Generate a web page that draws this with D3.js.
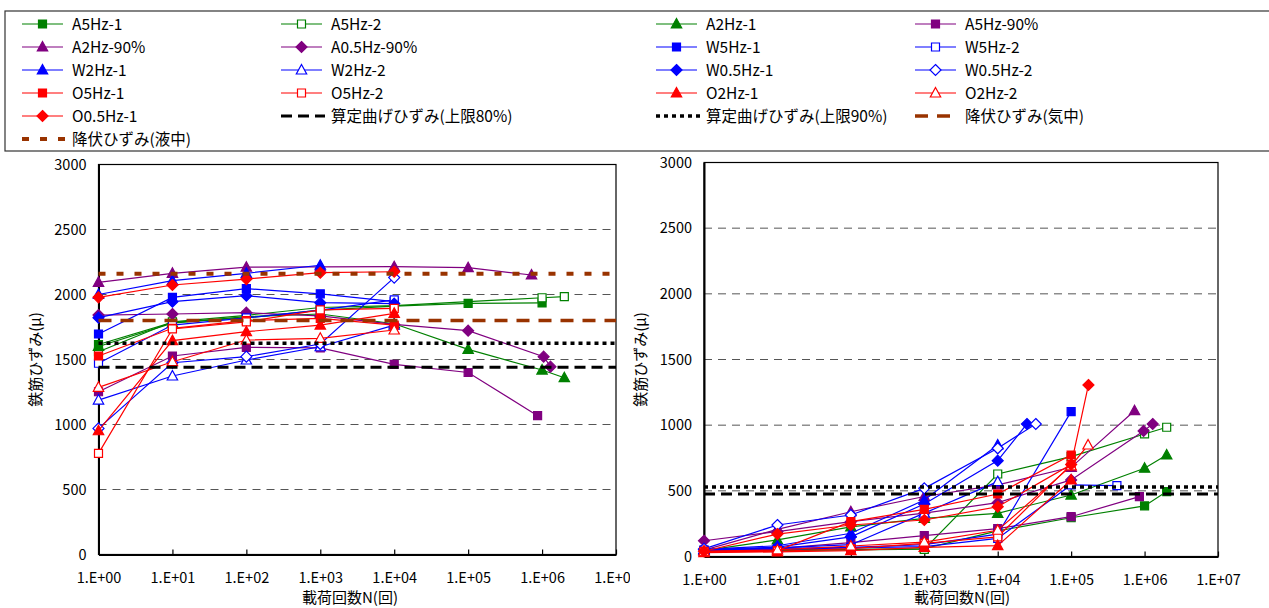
<!DOCTYPE html>
<html><head><meta charset="utf-8">
<script src="https://cdn.jsdelivr.net/npm/d3@7/dist/d3.min.js"></script>
<style>
body{margin:0;background:#fff;}
svg text{font-family:"Noto Sans CJK JP","Noto Sans",sans-serif;fill:#000;}
</style></head>
<body><svg id="c" width="1269" height="608"></svg>
<script>
// ---------- data ----------
const seriesNames = ["A5Hz-1","A5Hz-2","A2Hz-1","A5Hz-90%","A2Hz-90%","A0.5Hz-90%","W5Hz-1","W5Hz-2","W2Hz-1","W2Hz-2","W0.5Hz-1","W0.5Hz-2","O5Hz-1","O5Hz-2","O2Hz-1","O2Hz-2","O0.5Hz-1"];
const refNames = ["算定曲げひずみ(上限80%)","算定曲げひずみ(上限90%)","降伏ひずみ(気中)","降伏ひずみ(液中)"];
const yTicks = [0,500,1000,1500,2000,2500,3000];
const xTickValues = [1,10,100,1000,1e4,1e5,1e6,1e7];
const xTickLabels = ["1.E+00","1.E+01","1.E+02","1.E+03","1.E+04","1.E+05","1.E+06","1.E+07"];
const xTitle = "載荷回数N(回)";
const yTitle = "鉄筋ひずみ(μ)";

// left chart: [N, strain]
const L_A5Hz_1   = [[1,1615],[10,1785],[100,1820],[1000,1880],[1e4,1910],[1e5,1932],[1e6,1935]];
const L_A5Hz_2   = [[1,1560],[10,1790],[100,1840],[1000,1900],[1e4,1915],[1e6,1975],[2e6,1983]];
const L_A2Hz_1   = [[1,1600],[10,1780],[100,1830],[1000,1850],[1e4,1775],[1e5,1578],[1e6,1419],[2e6,1360]];
const L_A5Hz_90  = [[1,1252],[10,1527],[100,1594],[1000,1590],[1e4,1463],[1e5,1400],[8.7e5,1068]];
const L_A2Hz_90  = [[1,2094],[10,2163],[100,2210],[1000,2212],[1e4,2214],[1e5,2206],[7.2e5,2150]];
const L_A05Hz_90 = [[1,1842],[10,1850],[100,1860],[1000,1835],[1e4,1770],[1e5,1722],[1.05e6,1522],[1.3e6,1445]];
const L_W5Hz_1   = [[1,1696],[10,1978],[100,2045],[1000,2005],[1e4,1945]];
const L_W5Hz_2   = [[1,1471],[10,1765],[100,1820],[1000,1880],[1e4,1958]];
const L_W2Hz_1   = [[1,2000],[10,2107],[100,2163],[1000,2225]];
const L_W2Hz_2   = [[1,1188],[10,1373],[100,1496],[1000,1598],[1e4,1765]];
const L_W05Hz_1  = [[1,1822],[10,1945],[100,1991],[1000,1937],[1e4,1930]];
const L_W05Hz_2  = [[1,970],[10,1475],[100,1522],[1000,1619],[1e4,2130]];
const L_O5Hz_1   = [[1,1527],[10,1740],[100,1799],[1000,1817],[1e4,1765]];
const L_O5Hz_2   = [[1,778],[10,1735],[100,1790],[1000,1881],[1e4,1894]];
const L_O2Hz_1   = [[1,952],[10,1645],[100,1714],[1000,1765],[1e4,1855]];
const L_O2Hz_2   = [[1,1286],[10,1483],[100,1650],[1000,1663],[1e4,1727]];
const L_O05Hz_1  = [[1,1978],[10,2073],[100,2119],[1000,2168],[1e4,2175]];
const leftRefValues = [1440,1625,1800,2160];

// right chart: [N, strain]
const R_A5Hz_1   = [[1,40],[10,50],[100,55],[1000,60],[1e4,195],[1e5,295],[1e6,385],[2e6,494]];
const R_A5Hz_2   = [[1,42],[10,45],[100,50],[1000,55],[1e4,628],[1e5,760],[1e6,933],[2e6,984]];
const R_A2Hz_1   = [[1,45],[10,126],[100,225],[1000,290],[1e4,329],[1e5,468],[1e6,672],[2e6,773]];
const R_A5Hz_90  = [[1,40],[10,62],[100,105],[1000,159],[1e4,212],[1e5,303],[8.5e5,456]];
const R_A2Hz_90  = [[1,48],[10,207],[100,341],[1000,457],[1e4,545],[1e5,679],[7.3e5,1110]];
const R_A05Hz_90 = [[1,120],[10,190],[100,265],[1000,330],[1e4,410],[1e5,583],[9.7e5,956],[1.29e6,1009]];
const R_W5Hz_1   = [[1,50],[10,62],[100,70],[1000,90],[1e4,170],[1e5,1103]];
const R_W5Hz_2   = [[1,45],[10,55],[100,65],[1000,75],[1e4,138],[1e5,545],[4.2e5,540]];
const R_W2Hz_1   = [[1,55],[10,82],[100,177],[1000,430],[1e4,849]];
const R_W2Hz_2   = [[1,50],[10,65],[100,90],[1000,330],[1e4,570]];
const R_W05Hz_1  = [[1,52],[10,72],[100,150],[1000,400],[1e4,730],[2.5e4,1009]];
const R_W05Hz_2  = [[1,58],[10,240],[100,316],[1000,519],[1e4,824],[3.3e4,1009]];
const R_O5Hz_1   = [[1,40],[10,45],[100,265],[1000,359],[1e4,476],[1e5,773]];
const R_O5Hz_2   = [[1,35],[10,40],[100,60],[1000,100],[1e4,150],[1e5,700]];
const R_O2Hz_1   = [[1,30],[10,35],[100,45],[1000,70],[1e4,83],[1e5,583]];
const R_O2Hz_2   = [[1,40],[10,50],[100,80],[1000,110],[1e4,200],[1e5,690],[1.7e5,849]];
const R_O05Hz_1  = [[1,40],[10,171],[100,240],[1000,278],[1e4,379],[1e5,700],[1.72e5,1306]];
const rightRefValues = [475,530];

const leftSeries = [L_A5Hz_1,L_A5Hz_2,L_A2Hz_1,L_A5Hz_90,L_A2Hz_90,L_A05Hz_90,L_W5Hz_1,L_W5Hz_2,L_W2Hz_1,L_W2Hz_2,L_W05Hz_1,L_W05Hz_2,L_O5Hz_1,L_O5Hz_2,L_O2Hz_1,L_O2Hz_2,L_O05Hz_1];
const rightSeries = [R_A5Hz_1,R_A5Hz_2,R_A2Hz_1,R_A5Hz_90,R_A2Hz_90,R_A05Hz_90,R_W5Hz_1,R_W5Hz_2,R_W2Hz_1,R_W2Hz_2,R_W05Hz_1,R_W05Hz_2,R_O5Hz_1,R_O5Hz_2,R_O2Hz_1,R_O2Hz_2,R_O05Hz_1];

// ---------- styles ----------
const G="#008000",P="#800080",B="#0000FF",R="#FF0000",BR="#993300";
const seriesStyle = [
 [G,"sq",1],[G,"sq",0],[G,"tri",1],[P,"sq",1],[P,"tri",1],[P,"dia",1],
 [B,"sq",1],[B,"sq",0],[B,"tri",1],[B,"tri",0],[B,"dia",1],[B,"dia",0],
 [R,"sq",1],[R,"sq",0],[R,"tri",1],[R,"tri",0],[R,"dia",1]];
const refStyle = [
 {c:"#000",w:3,d:"11,6"},{c:"#000",w:3.5,d:"4,4"},{c:BR,w:3.5,d:"13,9"},{c:BR,w:4,d:"7,11"}];

function markerPath(shape){
  if(shape==="sq") return "M-4,-4H4V4H-4Z";
  if(shape==="tri") return "M0,-5.5L5.2,4L-5.2,4Z";
  return "M0,-5.5L5.5,0L0,5.5L-5.5,0Z";
}

const svg = d3.select("#c");

// ---------- legend ----------
svg.append("rect").attr("x",5).attr("y",11).attr("width",1280).attr("height",140)
  .attr("fill","#fff").attr("stroke","#333").attr("stroke-width",1.2);
const colX = [22,281,656,915];
const rowY = [24,47,70,93,116,139];
const legendItems = seriesNames.map((n,i)=>({name:n,type:"s",i})).concat(refNames.map((n,i)=>({name:n,type:"r",i})));
legendItems.forEach((it,k)=>{
  const x0 = colX[k%4], y0 = rowY[Math.floor(k/4)];
  const g = svg.append("g");
  if(it.type==="s"){
    const st = seriesStyle[it.i];
    g.append("line").attr("x1",x0).attr("x2",x0+41).attr("y1",y0).attr("y2",y0).attr("stroke",st[0]).attr("stroke-width",1.2);
    g.append("path").attr("d",markerPath(st[1])).attr("transform",`translate(${x0+20.5},${y0})`)
      .attr("fill",st[2]?st[0]:"#fff").attr("stroke",st[0]).attr("stroke-width",1.2);
  } else {
    const st = refStyle[it.i];
    g.append("line").attr("x1",x0).attr("x2",x0+44).attr("y1",y0).attr("y2",y0).attr("stroke",st.c).attr("stroke-width",st.w).attr("stroke-dasharray",st.d);
  }
  g.append("text").attr("x",x0+50).attr("y",y0).attr("dy","0.36em").attr("font-size",15.5).text(it.name);
});

// ---------- charts ----------
function drawChart(cfg){
  const x = d3.scaleLog().domain([1,1e7]).range([cfg.x0,cfg.x1]);
  const y = d3.scaleLinear().domain([0,3000]).range([cfg.y1,cfg.y0]);
  const g = svg.append("g");
  const clipId = "clip"+cfg.id;
  svg.append("clipPath").attr("id",clipId).append("rect").attr("x",cfg.clipX0).attr("y",0).attr("width",cfg.clipX1-cfg.clipX0).attr("height",608);
  g.attr("clip-path",`url(#${clipId})`);
  // gridlines
  g.selectAll(".grid").data(yTicks.filter(v=>v>0&&v<3000)).enter().append("line")
    .attr("x1",cfg.x0).attr("x2",cfg.x1).attr("y1",d=>y(d)).attr("y2",d=>y(d))
    .attr("stroke","#555").attr("stroke-width",1).attr("stroke-dasharray","8,6");
  // frame
  g.append("rect").attr("x",cfg.x0).attr("y",cfg.y0).attr("width",cfg.x1-cfg.x0).attr("height",cfg.y1-cfg.y0)
    .attr("fill","none").attr("stroke","#000").attr("stroke-width",1.2);
  // axes
  const xa = d3.axisBottom(x).tickValues(xTickValues).tickFormat((d,i)=>xTickLabels[i]).tickSizeInner(-5).tickSizeOuter(0).tickPadding(18);
  const ax = g.append("g").attr("transform",`translate(0,${cfg.y1})`).call(xa);
  ax.select(".domain").attr("stroke","#000").attr("stroke-width",2);
  ax.selectAll(".tick line").attr("stroke","#000").attr("stroke-width",1.2);
  ax.selectAll("text").attr("font-size",14.5).attr("font-family","'Noto Sans CJK JP',sans-serif").attr("fill","#000");
  const ya = d3.axisLeft(y).tickValues(yTicks).tickFormat(d3.format("d")).tickSize(0).tickPadding(12);
  const ay = g.append("g").attr("transform",`translate(${cfg.x0},0)`).call(ya);
  ay.select(".domain").attr("stroke","#000").attr("stroke-width",2);
  ay.selectAll("text").attr("font-size",14.5).attr("font-family","'Noto Sans CJK JP',sans-serif").attr("fill","#000");
  // series
  const line = d3.line().x(d=>x(d[0])).y(d=>y(d[1]));
  cfg.series.forEach((data,i)=>{
    const st = seriesStyle[i];
    g.append("path").datum(data).attr("d",line).attr("fill","none").attr("stroke",st[0]).attr("stroke-width",1.2);
    g.selectAll(null).data(data).enter().append("path").attr("d",markerPath(st[1]))
      .attr("transform",d=>`translate(${x(d[0])},${y(d[1])})`)
      .attr("fill",st[2]?st[0]:"#fff").attr("stroke",st[0]).attr("stroke-width",1.2);
  });
  // reference lines
  cfg.refs.forEach((v,i)=>{
    const st = refStyle[i];
    g.append("line").attr("x1",cfg.x0).attr("x2",cfg.x1).attr("y1",y(v)).attr("y2",y(v))
      .attr("stroke",st.c).attr("stroke-width",st.w).attr("stroke-dasharray",st.d);
  });
  // titles
  svg.append("text").attr("transform",`translate(${cfg.ytx},${(cfg.y0+cfg.y1)/2}) rotate(-90)`)
    .attr("text-anchor","middle").attr("dy","0.35em").attr("font-size",15).text(yTitle);
  svg.append("text").attr("x",cfg.xtx).attr("y",cfg.xty).attr("text-anchor","middle").attr("dy","0.35em").attr("font-size",15).text(xTitle);
}

drawChart({id:"L",x0:98.5,x1:616,y0:164.5,y1:554.5,series:leftSeries,refs:leftRefValues,clipX0:0,clipX1:630,ytx:36,xtx:350,xty:598});
drawChart({id:"R",x0:704,x1:1218,y0:162.5,y1:556.5,series:rightSeries,refs:rightRefValues,clipX0:630,clipX1:1269,ytx:641,xtx:962,xty:598});
</script></body></html>
